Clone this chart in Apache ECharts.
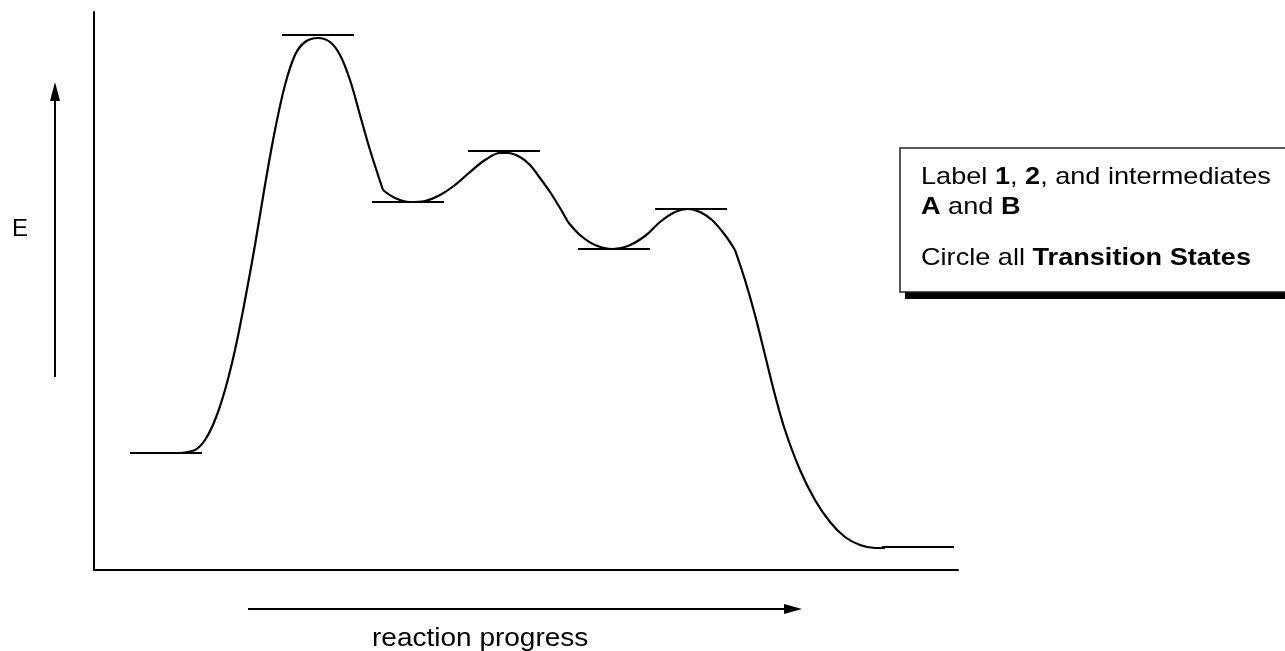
<!DOCTYPE html>
<html>
<head>
<meta charset="utf-8">
<script src="https://cdn.jsdelivr.net/npm/echarts@6/dist/echarts.min.js"></script>
<style>
html,body{margin:0;padding:0;background:#fff;}
#chart{width:1285px;height:651px;}
</style>
</head>
<body>
<div id="chart"></div>
<script>
// Energy profile (x = reaction progress, y = energy), split at the curve's corners
const curveRise1 = [[86,117],[101,120],[111,130],[121,150],[131,180],[141,220],[151,270],[161,325],[171,385],[181,440],[191,485],[201,515],[211,528],[224,532],[236,528],[246,515],[256,490],[266,455],[276,420],[289,380]];
const curveMid2 = [[289,380],[301,372],[316,368],[331,369],[346,375],[361,385],[376,398],[391,410],[406,417],[414,417],[426,413],[436,405],[446,392],[456,378],[466,362],[474,348]];
const curveMid3 = [[474,348],[486,335],[501,325],[519,321],[534,324],[551,334],[566,348],[581,358],[594,361],[606,358],[618,350],[631,335],[641,320]];
const curveFall4 = [[641,320],[651,290],[661,255],[671,215],[681,175],[691,140],[706,100],[721,70],[736,48],[751,33],[766,25],[781,22],[791,22]];

// Energy level bars: name, start x, end x, energy
const levelNames = ['reactant','TS1','A','TS2','B','TS3','product'];
const levelStart = [36,188,278,374,484,561,788];
const levelEnd   = [108,260,350,446,556,633,860];
const levelEnergy = [117,535,368,419,321,361,23];

const xLabel = 'reaction progress';
const yLabel = 'E';
const noteLines = ['Label {b|1}, {b|2}, and intermediates', '{b|A} and {b|B}', 'Circle all {b|Transition States}'];

const chart = echarts.init(document.getElementById('chart'), null, {renderer:'canvas'});
const lineStyle = {color:'#000', width:2.2};
const series = [];
[curveRise1, curveMid2, curveMid3, curveFall4].forEach(function(seg, i){
  series.push({type:'line', name:'curve'+i, data:seg, smooth:0.35, showSymbol:false, lineStyle:lineStyle, silent:true});
});
levelNames.forEach(function(n, i){
  series.push({type:'line', name:n, data:[[levelStart[i],levelEnergy[i]],[levelEnd[i],levelEnergy[i]]], showSymbol:false, lineStyle:lineStyle, silent:true});
});

const font = '"Liberation Sans", Arial, Helvetica, sans-serif';
const noteY = [165, 195, 246];
const noteGraphics = noteLines.map(function(t, i){
  return {type:'text', x:921, y:noteY[i], scaleX:1.13, style:{
    text:t, x:0, y:0, font:'24px '+font, fill:'#000', verticalAlign:'top',
    rich:{b:{fontWeight:'bold', fontSize:24, fontFamily:font}}
  }};
});
chart.setOption({
  animation:false,
  backgroundColor:'#fff',
  grid:{left:94, right:327, top:12, bottom:81},
  xAxis:{type:'value', min:0, max:864, axisLine:{show:true, onZero:false, lineStyle:{color:'#000', width:2}}, axisTick:{show:false}, axisLabel:{show:false}, splitLine:{show:false}},
  yAxis:{type:'value', min:0, max:558, axisLine:{show:true, onZero:false, lineStyle:{color:'#000', width:2}}, axisTick:{show:false}, axisLabel:{show:false}, splitLine:{show:false}},
  series:series,
  graphic:[
    // E arrow
    {type:'line', shape:{x1:55,y1:377,x2:55,y2:98}, style:{stroke:'#000', lineWidth:2}},
    {type:'polygon', shape:{points:[[55,82],[50,101],[60,101]]}, style:{fill:'#000'}},
    {type:'text', x:12, y:217, style:{text:yLabel, x:0, y:0, font:'24px '+font, fill:'#000', verticalAlign:'top'}},
    // progress arrow
    {type:'line', shape:{x1:248,y1:609,x2:786,y2:609}, style:{stroke:'#000', lineWidth:2}},
    {type:'polygon', shape:{points:[[802,609],[784,604],[784,614]]}, style:{fill:'#000'}},
    {type:'text', x:372, y:627, scaleX:1.12, style:{text:xLabel, x:0, y:0, font:'25px '+font, fill:'#000', verticalAlign:'top'}},
    // instruction box with shadow
    {type:'rect', shape:{x:905,y:154,width:420,height:145}, style:{fill:'#000'}},
    {type:'rect', shape:{x:900,y:148,width:420,height:144}, style:{fill:'#fff', stroke:'#222', lineWidth:1.5}}
  ].concat(noteGraphics)
});
</script>
</body>
</html>
